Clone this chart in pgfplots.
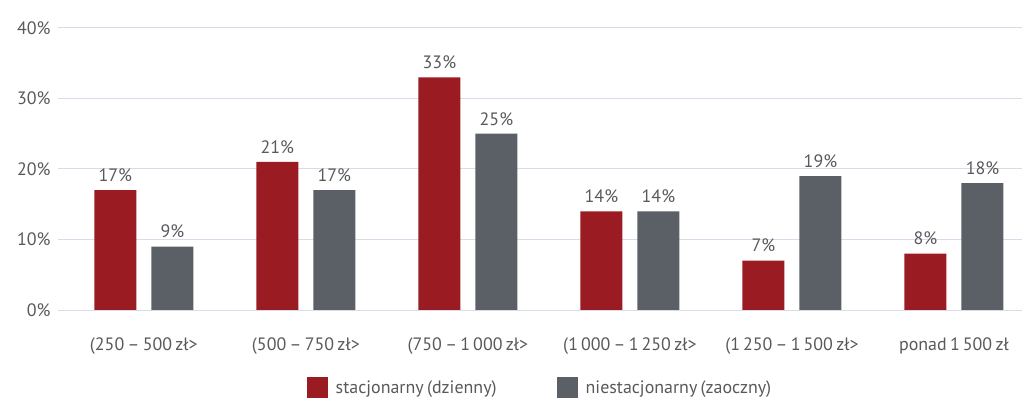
\documentclass[border=0pt]{standalone}
\usepackage{fontspec}
\setmainfont{PT Sans}[WordSpace=0.7]
\usepackage{pgfplots}
\pgfplotsset{compat=1.18}
\definecolor{barred}{HTML}{9A1B22}
\definecolor{bargray}{HTML}{5B5F66}
\definecolor{txt}{HTML}{58595B}
\definecolor{gridc}{HTML}{DADAE8}
\begin{document}
\begin{tikzpicture}
\path[use as bounding box] (0,0) rectangle (1025bp,398bp);
\begin{axis}[
  at={(58bp,88bp)}, anchor=south west,
  scale only axis, width=964bp, height=282bp,
  ybar=15bp, bar width=42bp,
  xmin=-0.53, xmax=5.42, ymin=0, ymax=40,
  xtick={0,1,2,3,4,5},
  xticklabels={{(250 – 500 zł>},{(500 – 750 zł>},{(750 – 1\,000 zł>},{(1\,000 – 1\,250 zł>},{(1\,250 – 1\,500 zł>},{ponad 1\,500 zł}},
  ytick={0,10,20,30,40},
  yticklabels={0\%,10\%,20\%,30\%,40\%},
  axis line style={draw=none},
  major tick length=0pt,
  ymajorgrids, grid style={gridc, line width=1bp},
  tick label style={font=\fontsize{18}{21}\selectfont, text=txt},
  xticklabel style={yshift=-24bp},
  yticklabel style={xshift=-4bp},
  nodes near coords={\pgfmathprintnumber{\pgfplotspointmeta}\%},
  nodes near coords style={font=\fontsize{18}{21}\selectfont, text=txt, yshift=5bp},
  /pgf/number format/assume math mode=true,
  legend columns=2,
  legend style={at={(0.5,-0.23)}, anchor=north, draw=none, fill=none,
    font=\fontsize{18}{21}\selectfont, text=txt,
    /tikz/every odd column/.append style={column sep=6bp},
    /tikz/every even column/.append style={column sep=58bp}},
  legend image code/.code={\fill[#1] (0bp,-10.5bp) rectangle (21bp,10.5bp);},
]
\addplot[fill=barred, draw=none] coordinates {(0,17) (1,21) (2,33) (3,14) (4,7) (5,8)};
\addplot[fill=bargray, draw=none] coordinates {(0,9) (1,17) (2,25) (3,14) (4,19) (5,18)};
\legend{stacjonarny (dzienny), niestacjonarny (zaoczny)}
\end{axis}
\end{tikzpicture}
\end{document}
